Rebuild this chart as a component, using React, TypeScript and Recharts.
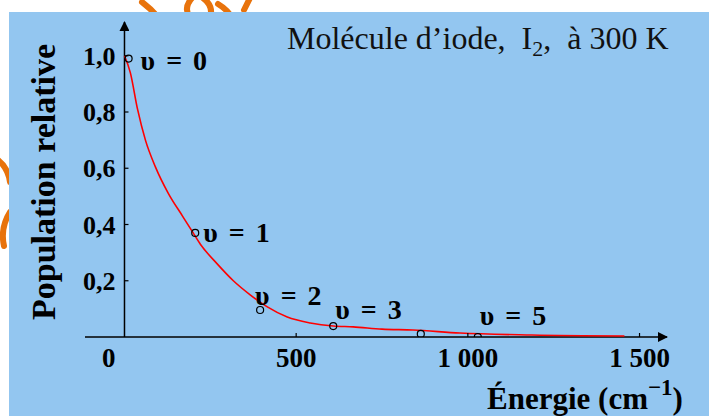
import React from "react";
import {
  ComposedChart,
  Line,
  Scatter,
  XAxis,
  YAxis,
  ReferenceLine,
} from "recharts";

// Relative population of the vibrational levels (energy in cm-1)
const energies = [0, 17, 38, 61, 90, 128, 169, 200, 221, 270, 317, 366, 416, 474, 541, 608, 666, 750, 840, 977, 1186, 1456];
const populations = [1.0, 0.94, 0.81, 0.7, 0.605, 0.51, 0.43, 0.37, 0.33, 0.26, 0.2, 0.15, 0.107, 0.071, 0.05, 0.039, 0.036, 0.028, 0.025, 0.014, 0.007, 0.0036];

const levelNames = ["υ = 0", "υ = 1", "υ = 2", "υ = 3", "", "υ = 5"];
const levelEnergies = [12, 206, 395, 608, 863, 1029];
const levelPopulations = [0.99, 0.37, 0.096, 0.039, 0.011, 0.0];

const xTicks = [0, 500, 1000, 1500];
const xTickLabels = ["0", "500", "1 000", "1 500"];
const yTicks = [0.2, 0.4, 0.6, 0.8, 1.0];
const yTickLabels = ["0,2", "0,4", "0,6", "0,8", "1,0"];

const W = 709;
const H = 416;
const X_MIN = -115;
const X_MAX = 1580;
const Y_MAX = 1.12;
const X_AXIS_H = 1;
const Y_AXIS_W = 1;
const MARGIN = { top: 22, right: 42, bottom: 79 - X_AXIS_H, left: 85 - Y_AXIS_W };
const PLOT_LEFT = MARGIN.left + Y_AXIS_W;
const PLOT_W = W - PLOT_LEFT - MARGIN.right;
const AXIS_X = PLOT_LEFT + ((0 - X_MIN) / (X_MAX - X_MIN)) * PLOT_W;

const SERIF = '"Liberation Serif", "DejaVu Serif", serif';
const BLUE = "#93c6f0";
const ORANGE = "#e8730c";

// where each level's name sits relative to its marker
const labelOffsets: [number, number][] = [
  [12, 11],
  [8, 9],
  [-5, -5],
  [2, -7],
  [0, 0],
  [2, -12],
];

const curveData = energies.map((e, i) => ({ e, p: populations[i] }));
const levelData = levelEnergies.map((e, i) => ({
  e,
  p: levelPopulations[i],
  name: levelNames[i],
  idx: i,
}));

function XTick({ x, y, payload }: any) {
  const i = xTicks.indexOf(payload.value);
  const origin = payload.value === 0;
  return (
    <g>
      {!origin && <line x1={x} x2={x} y1={y - 4} y2={y} stroke="#000" strokeWidth={1.2} />}
      <text
        x={origin ? x - 9 : x}
        y={y + 30}
        textAnchor={origin ? "end" : "middle"}
        fontFamily={SERIF}
        fontWeight="bold"
        fontSize={27}
        fill="#000"
      >
        {xTickLabels[i]}
      </text>
    </g>
  );
}

function YTick({ y, payload }: any) {
  const i = yTicks.indexOf(payload.value);
  return (
    <g>
      <line x1={AXIS_X} x2={AXIS_X + 4} y1={y} y2={y} stroke="#000" strokeWidth={1.2} />
      <text
        x={AXIS_X - 9}
        y={y + 9}
        textAnchor="end"
        fontFamily={SERIF}
        fontWeight="bold"
        fontSize={26}
        fill="#000"
      >
        {yTickLabels[i]}
      </text>
    </g>
  );
}

function LevelMark({ cx, cy, payload }: any) {
  const [dx, dy] = labelOffsets[payload.idx];
  return (
    <g>
      <circle cx={cx} cy={cy} r={3.5} fill="none" stroke="#000" strokeWidth={1.2} />
      {payload.name && (
        <text
          x={cx + dx}
          y={cy + dy}
          fontFamily={SERIF}
          fontWeight="bold"
          fontSize={28}
          wordSpacing={4}
          fill="#000"
        >
          {payload.name}
        </text>
      )}
    </g>
  );
}

function AxisArrow(props: any) {
  const { x1, y1, x2, y2 } = props;
  return (
    <line x1={x1} y1={y1} x2={x2} y2={y2} stroke="#000" strokeWidth={1.5} markerEnd="url(#axisArrow)" />
  );
}

export default function App() {
  return (
    <div style={{ position: "absolute", left: 0, top: 0, width: W, height: H, background: "#fff", overflow: "hidden" }}>
      <svg width={W} height={H} style={{ position: "absolute", left: 0, top: 0 }}>
        <defs>
          <marker id="axisArrow" viewBox="0 0 10 10" refX="9" refY="5" markerWidth="12" markerHeight="10" markerUnits="userSpaceOnUse" orient="auto">
            <path d="M0,0 L10,5 L0,10 Z" fill="#000" />
          </marker>
        </defs>
        <g fill="none" stroke={ORANGE} strokeWidth={6} strokeLinecap="round">
          <path d="M142,2 Q150,8 157,16" />
          <path d="M192,-2 Q183,8 190,18" />
          <path d="M203,-2 Q214,6 210,18" />
          <path d="M218,4 Q228,10 232,18" />
          <path d="M244,10 L250,-2" />
          <path d="M-2,160 Q8,168 10,182" />
          <path d="M10,212 Q0,228 4,246" />
        </g>
      </svg>
      <div style={{ position: "absolute", left: 9, top: 12, right: 0, bottom: 0, background: BLUE }} />
      <div style={{ position: "absolute", left: 0, top: 0 }}>
        <ComposedChart width={W} height={H} margin={MARGIN}>
          <XAxis
            dataKey="e"
            type="number"
            domain={[X_MIN, X_MAX]}
            ticks={xTicks}
            height={X_AXIS_H}
            axisLine={false}
            tickLine={false}
            tickSize={0}
            tickMargin={0}
            tick={<XTick />}
            interval={0}
            allowDataOverflow
          />
          <YAxis
            type="number"
            domain={[0, Y_MAX]}
            ticks={yTicks}
            width={Y_AXIS_W}
            axisLine={false}
            tickLine={false}
            tick={<YTick />}
            interval={0}
            allowDataOverflow
          />
          <ReferenceLine
            segment={[{ x: X_MIN, y: 0 }, { x: X_MAX, y: 0 }]}
            shape={AxisArrow}
            ifOverflow="visible"
          />
          <ReferenceLine
            segment={[{ x: 0, y: 0 }, { x: 0, y: Y_MAX }]}
            shape={AxisArrow}
            ifOverflow="visible"
          />
          <Line
            data={curveData}
            dataKey="p"
            type="monotone"
            stroke="#ff0000"
            strokeWidth={1.6}
            dot={false}
            isAnimationActive={false}
          />
          <Scatter
            data={levelData}
            dataKey="p"
            shape={LevelMark}
            isAnimationActive={false}
          />
        </ComposedChart>
      </div>
      <svg width={W} height={H} style={{ position: "absolute", left: 0, top: 0, pointerEvents: "none" }}>
        <text x={287} y={49} fontFamily={SERIF} fontSize={32} fill="#111">
          Molécule d’iode,{"\u00a0\u00a0"}I
          <tspan fontSize={22} dy={7}>2</tspan>
          <tspan dy={-7}>,{"\u00a0\u00a0"}à 300 K</tspan>
        </text>
        <text
          transform="translate(55,182) rotate(-90)"
          textAnchor="middle"
          fontFamily={SERIF}
          fontWeight="bold"
          fontSize={34}
          fill="#000"
        >
          Population relative
        </text>
        <text x={487} y={409} fontFamily={SERIF} fontWeight="bold" fontSize={31} fill="#000">
          Énergie (cm
          <tspan fontSize={23} dy={-14}>−1</tspan>
          <tspan dy={14}>)</tspan>
        </text>
      </svg>
    </div>
  );
}
